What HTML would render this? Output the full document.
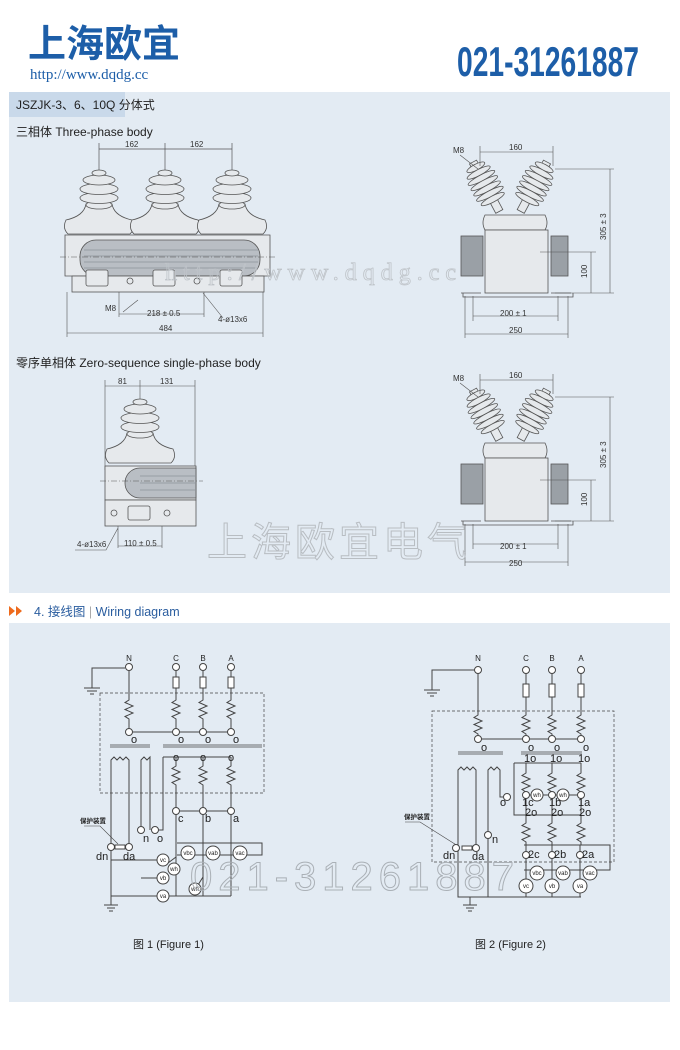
<!DOCTYPE html>
<html><head><meta charset="utf-8"><style>
html,body{margin:0;padding:0;background:#fff;}
body{width:680px;height:1050px;position:relative;overflow:hidden;font-family:"Liberation Sans","Noto Sans CJK SC",sans-serif;}
svg{position:absolute;left:0;top:0;}
</style></head><body>
<svg width="680" height="1050" viewBox="0 0 680 1050" xmlns="http://www.w3.org/2000/svg" font-family="Liberation Sans, Noto Sans CJK SC, sans-serif">
<defs>
<symbol id="res" overflow="visible"><path d="M0 0 v3 l-4 2.5 l8 3.5 l-8 3.5 l8 3.5 l-8 3.5 l4 2.5 v3" fill="none" stroke="#444" stroke-width="1"/></symbol>
<symbol id="ins" overflow="visible">
 <g fill="#e6e9ec" stroke="#555" stroke-width="0.8">
 <path d="M-33 48 q-4 8 2 14 h62 q6 -6 2 -14 q-18 -4 -20 -16 h-26 q-2 12 -20 16z"/>
 <ellipse cx="0" cy="33" rx="13" ry="4"/>
 <ellipse cx="0" cy="26" rx="19" ry="5.5"/>
 <ellipse cx="0" cy="17" rx="19" ry="5.5"/>
 <ellipse cx="0" cy="8" rx="16" ry="5"/>
 <ellipse cx="0" cy="1" rx="7" ry="3"/>
 </g>
</symbol>
<symbol id="side" overflow="visible">
 <g stroke="#555" stroke-width="0.8" fill="#e6e9ec">
 <g transform="translate(-10 -8) rotate(-28)">
  <rect x="-4" y="0" width="8" height="56"/>
  <ellipse cx="0" cy="6" rx="10" ry="3"/><ellipse cx="0" cy="12" rx="13" ry="3"/><ellipse cx="0" cy="18" rx="15" ry="3"/><ellipse cx="0" cy="24" rx="15" ry="3"/><ellipse cx="0" cy="30" rx="15" ry="3"/><ellipse cx="0" cy="36" rx="15" ry="3"/><ellipse cx="0" cy="42" rx="13" ry="3"/>
 </g>
 <g transform="translate(64 -8) rotate(28)">
  <rect x="-4" y="0" width="8" height="56"/>
  <ellipse cx="0" cy="6" rx="10" ry="3"/><ellipse cx="0" cy="12" rx="13" ry="3"/><ellipse cx="0" cy="18" rx="15" ry="3"/><ellipse cx="0" cy="24" rx="15" ry="3"/><ellipse cx="0" cy="30" rx="15" ry="3"/><ellipse cx="0" cy="36" rx="15" ry="3"/><ellipse cx="0" cy="42" rx="13" ry="3"/>
 </g>
 <path d="M2 45 q-4 8 0 15 h60 q4 -7 0 -15z"/>
 <rect x="2" y="60" width="63" height="63"/>
 <rect x="-22" y="66" width="22" height="40" fill="#9aa0a6"/>
 <rect x="68" y="66" width="17" height="40" fill="#9aa0a6"/>
 <path d="M-22 123 h20 M68 123 h20" />
 <path d="M-20 123 v4 h110 v-4" fill="none"/>
 </g>
</symbol>
</defs>

<!-- header -->
<text x="28" y="57" font-size="38" font-weight="bold" fill="#1d5ea8" font-family="Noto Sans CJK SC, sans-serif">上海欧宜</text>
<text x="30" y="79" font-size="15" fill="#1d5ea8" font-family="Liberation Serif, serif">http://www.dqdg.cc</text>
<text x="457" y="76" font-size="42" font-weight="bold" fill="#1d5ea8" textLength="182" lengthAdjust="spacingAndGlyphs">021-31261887</text>

<!-- panel 1 -->
<rect x="9" y="92" width="661" height="501" fill="#e3ebf3"/>
<rect x="9" y="92" width="116" height="25" fill="#c9d9ea"/>
<text x="16" y="109" font-size="12" fill="#222">JSZJK-3、6、10Q 分体式</text>
<text x="16" y="136" font-size="12" fill="#222">三相体  Three-phase body</text>

<!-- three-phase front -->
<g stroke="#555" stroke-width="0.7" fill="none">
 <path d="M99 143 v30 M165 143 v30 M232 143 v30"/>
 <path d="M99 149 H232"/>
</g>
<text x="125" y="147" font-size="8" fill="#333">162</text>
<text x="190" y="147" font-size="8" fill="#333">162</text>
<use href="#ins" x="99" y="172"/>
<use href="#ins" x="165" y="172"/>
<use href="#ins" x="232" y="172"/>
<g stroke="#555" stroke-width="0.8">
 <path d="M65 235 H270 V276 H65z" fill="#e6e9ec"/>
 <rect x="80" y="240" width="180" height="36" rx="16" fill="#b9bec4"/>
 <path d="M84 250 H258 M84 256 H258 M84 262 H258 M84 268 H258" stroke="#8d939a"/>
 <rect x="72" y="276" width="192" height="16" fill="#e6e9ec"/>
 <rect x="86" y="270" width="22" height="16" rx="2" fill="#e6e9ec"/>
 <rect x="153" y="270" width="22" height="16" rx="2" fill="#e6e9ec"/>
 <rect x="220" y="270" width="22" height="16" rx="2" fill="#e6e9ec"/>
 <circle cx="130" cy="281" r="3" fill="none"/><circle cx="197" cy="281" r="3" fill="none"/>
 <path d="M60 257 H275" stroke-dasharray="6 2 1 2" stroke-width="0.5"/>
 <path d="M119 292 v25 M204 292 v25 M67 292 v45 M263 292 v45 M119 314 H204 M67 333 H263" fill="none" stroke-width="0.6"/>
 <path d="M138 300 l-15 12 M203 293 l20 25" fill="none" stroke-width="0.6"/>
</g>
<text x="105" y="311" font-size="8" fill="#333">M8</text>
<text x="147" y="316" font-size="8" fill="#333">218 ± 0.5</text>
<text x="218" y="322" font-size="8" fill="#333">4-ø13x6</text>
<text x="159" y="331" font-size="8" fill="#333">484</text>

<!-- side view 1 -->
<use href="#side" x="483" y="170"/>
<g stroke="#555" stroke-width="0.6" fill="none">
 <path d="M480 146 v20 M553 146 v20 M480 152 H553 M460 155 l18 14"/>
 <path d="M555 169 H614 M555 293 H614 M610 169 V293 M540 252 H596 M591 252 V293"/>
 <path d="M473 296 v25 M558 296 v25 M473 316 H558 M465 296 v42 M568 296 v42 M465 334 H568"/>
</g>
<text x="453" y="153" font-size="8" fill="#333">M8</text>
<text x="509" y="150" font-size="8" fill="#333">160</text>
<text x="500" y="316" font-size="8" fill="#333">200 ± 1</text>
<text x="509" y="333" font-size="8" fill="#333">250</text>
<text x="606" y="240" font-size="8" fill="#333" transform="rotate(-90 606 240)">305 ± 3</text>
<text x="587" y="278" font-size="8" fill="#333" transform="rotate(-90 587 278)">100</text>

<text x="16" y="367" font-size="12" fill="#222">零序单相体  Zero-sequence single-phase body</text>

<!-- zero seq front -->
<g stroke="#555" stroke-width="0.6" fill="none">
 <path d="M105 380 v90 M140 380 v20 M195 380 v90 M105 386 H195"/>
</g>
<text x="118" y="384" font-size="8" fill="#333">81</text>
<text x="160" y="384" font-size="8" fill="#333">131</text>
<use href="#ins" x="140" y="401"/>
<g stroke="#555" stroke-width="0.8">
 <rect x="105" y="466" width="91" height="34" fill="#e6e9ec"/>
 <path d="M196 468 H140 a15 15 0 0 0 0 30 H196z" fill="#b9bec4"/>
 <path d="M140 476 H196 M140 483 H196 M140 490 H196" stroke="#8d939a"/>
 <rect x="105" y="500" width="91" height="26" fill="#e6e9ec"/>
 <rect x="128" y="506" width="22" height="14" rx="2" fill="#e6e9ec"/>
 <circle cx="114" cy="513" r="3" fill="none"/><circle cx="167" cy="513" r="3" fill="none"/>
 <path d="M100 481 H203" stroke-dasharray="6 2 1 2" stroke-width="0.5"/>
 <path d="M118 526 v22 M162 526 v22 M118 546 H162 M75 550 H106 l12 -22" fill="none" stroke-width="0.6"/>
</g>
<text x="77" y="547" font-size="8" fill="#333">4-ø13x6</text>
<text x="124" y="546" font-size="8" fill="#333">110 ± 0.5</text>

<!-- side view 2 -->
<use href="#side" x="483" y="398"/>
<g stroke="#555" stroke-width="0.6" fill="none">
 <path d="M480 374 v20 M553 374 v20 M480 380 H553 M460 383 l18 14"/>
 <path d="M555 397 H614 M555 521 H614 M610 397 V521 M540 480 H596 M591 480 V521"/>
 <path d="M473 524 v25 M558 524 v25 M473 544 H558 M465 524 v42 M568 524 v42 M465 562 H568"/>
</g>
<text x="453" y="381" font-size="8" fill="#333">M8</text>
<text x="509" y="378" font-size="8" fill="#333">160</text>
<text x="500" y="549" font-size="8" fill="#333">200 ± 1</text>
<text x="509" y="566" font-size="8" fill="#333">250</text>
<text x="606" y="468" font-size="8" fill="#333" transform="rotate(-90 606 468)">305 ± 3</text>
<text x="587" y="506" font-size="8" fill="#333" transform="rotate(-90 587 506)">100</text>

<!-- watermarks -->
<text x="165" y="280" font-size="24" fill="none" stroke="#bfc4c9" stroke-width="0.8" font-family="Liberation Serif, serif" letter-spacing="6">http://www.dqdg.cc</text>
<text x="207" y="556" font-size="40" fill="none" stroke="#b8bdc2" stroke-width="1" font-family="Noto Sans CJK SC, sans-serif" letter-spacing="4">上海欧宜电气</text>

<!-- section 4 header -->
<path d="M9 606 l6 5 l-6 5z M16 606 l6 5 l-6 5z" fill="#ee6a1c"/>
<text x="34" y="616" font-size="12.5" fill="#2a5d9f">4. 接线图 <tspan fill="#aaa">|</tspan> Wiring diagram</text>

<!-- panel 2 -->
<rect x="9" y="623" width="661" height="379" fill="#e3ebf3"/>

<g stroke="#444" stroke-width="1" fill="none" font-size="8">
<!-- FIGURE 1 -->
<path d="M129 671 V697 M176 671 V697 M203 671 V697 M231 671 V697"/>
<path d="M125 668 H92 V688 M84 688 h16 M87 691 h10 M90 694 h4"/>
<rect x="173" y="677" width="6" height="11" fill="#fff"/><rect x="200" y="677" width="6" height="11" fill="#fff"/><rect x="228" y="677" width="6" height="11" fill="#fff"/>
<rect x="100" y="693" width="164" height="100" stroke-dasharray="3 2" stroke-width="0.7"/>
<use href="#res" x="129" y="697"/><use href="#res" x="176" y="697"/><use href="#res" x="203" y="697"/><use href="#res" x="231" y="697"/>
<path d="M129 722 V732 M176 722 V732 M203 722 V732 M231 722 V732 M129 732 H231"/>
<path d="M110 745 H150 M163 745 H262 M110 747 H150 M163 747 H262" stroke-width="0.8"/>
<path d="M163 757 H231 M176 757 V763 M203 757 V763 M231 757 V763 M163 757 V830 H158"/>
<use href="#res" x="176" y="763"/><use href="#res" x="203" y="763"/><use href="#res" x="231" y="763"/>
<path d="M176 788 V896 M203 788 V896 M231 788 V896 M176 811 H231"/>
<path d="M111 847 V760 l3 -3 l3 3 l3 -3 l3 3 l3 -3 l3 3 V847 M141 826 V760 l3 -3 l3 3 l3 -3 V830"/>
<path d="M111 850 V905 M104 905 h14 M107 908 h8 M109 911 h4 M111 896 H231 M111 860 H159 M141 878 H159 M111 896 H159"/>
<path d="M177 843 H262 V855 H177 M168 863 l8 -6 M198 885 l5 -8"/>
<rect x="115" y="845" width="10" height="4" fill="#fff"/>
<path d="M84 826 H100 l18 18" stroke-width="0.6"/>
<circle cx="129" cy="667" r="3.5" fill="#fff"/><circle cx="176" cy="667" r="3.5" fill="#fff"/><circle cx="203" cy="667" r="3.5" fill="#fff"/><circle cx="231" cy="667" r="3.5" fill="#fff"/>
<circle cx="129" cy="732" r="3.5" fill="#fff"/><circle cx="176" cy="732" r="3.5" fill="#fff"/><circle cx="203" cy="732" r="3.5" fill="#fff"/><circle cx="231" cy="732" r="3.5" fill="#fff"/>
<circle cx="176" cy="811" r="3.5" fill="#fff"/><circle cx="203" cy="811" r="3.5" fill="#fff"/><circle cx="231" cy="811" r="3.5" fill="#fff"/>
<circle cx="141" cy="830" r="3.5" fill="#fff"/><circle cx="155" cy="830" r="3.5" fill="#fff"/>
<circle cx="111" cy="847" r="3.5" fill="#fff"/><circle cx="129" cy="847" r="3.5" fill="#fff"/>
<circle cx="188" cy="853" r="7" fill="#fff"/><circle cx="213" cy="853" r="7" fill="#fff"/><circle cx="240" cy="853" r="7" fill="#fff"/>
<circle cx="163" cy="860" r="6" fill="#fff"/><circle cx="174" cy="869" r="6" fill="#fff"/><circle cx="163" cy="878" r="6" fill="#fff"/><circle cx="195" cy="889" r="6" fill="#fff"/><circle cx="163" cy="896" r="6" fill="#fff"/>

<!-- FIGURE 2 -->
<path d="M478 673 V712 M526 673 V712 M552 673 V712 M581 673 V712"/>
<path d="M474 670 H432 V690 M424 690 h16 M427 693 h10 M430 696 h4"/>
<rect x="523" y="684" width="6" height="13" fill="#fff"/><rect x="549" y="684" width="6" height="13" fill="#fff"/><rect x="578" y="684" width="6" height="13" fill="#fff"/>
<rect x="432" y="711" width="182" height="151" stroke-dasharray="3 2" stroke-width="0.7"/>
<use href="#res" x="478" y="712"/><use href="#res" x="526" y="712"/><use href="#res" x="552" y="712"/><use href="#res" x="581" y="712"/>
<path d="M478 737 V739 M526 737 V739 M552 737 V739 M581 737 V739 M478 739 H581"/>
<path d="M458 752 H503 M521 752 H582 M458 754 H503 M521 754 H582" stroke-width="0.8"/>
<path d="M514 763 H581 M514 763 V815 H581 M526 763 V770 M552 763 V770 M581 763 V770"/>
<use href="#res" x="526" y="770"/><use href="#res" x="552" y="770"/><use href="#res" x="581" y="770"/>
<path d="M526 795 V820 M552 795 V820 M581 795 V820 M526 795 H581"/>
<use href="#res" x="526" y="820"/><use href="#res" x="552" y="820"/><use href="#res" x="581" y="820"/>
<path d="M526 845 V897 M552 845 V897 M580 845 V897 M524 845 H610 V870 H524"/>
<path d="M458 848 V770 l3 -3 l3 3 l3 -3 l3 3 l3 -3 l3 3 V848 M488 835 V770 l3 -3 l3 3 l3 -3 l3 3 V797 H503 M488 835 V897"/>
<path d="M458 851 V897 H581 M470 897 V905 M463 905 h14 M466 908 h8 M468 911 h4"/>
<rect x="462" y="846" width="10" height="4" fill="#fff"/>
<path d="M405 822 H420 l38 24" stroke-width="0.6"/>
<circle cx="478" cy="670" r="3.5" fill="#fff"/><circle cx="526" cy="670" r="3.5" fill="#fff"/><circle cx="552" cy="670" r="3.5" fill="#fff"/><circle cx="581" cy="670" r="3.5" fill="#fff"/>
<circle cx="478" cy="739" r="3.5" fill="#fff"/><circle cx="526" cy="739" r="3.5" fill="#fff"/><circle cx="552" cy="739" r="3.5" fill="#fff"/><circle cx="581" cy="739" r="3.5" fill="#fff"/>
<circle cx="526" cy="795" r="3.5" fill="#fff"/><circle cx="552" cy="795" r="3.5" fill="#fff"/><circle cx="581" cy="795" r="3.5" fill="#fff"/>
<circle cx="537" cy="795" r="6" fill="#fff"/><circle cx="563" cy="795" r="6" fill="#fff"/>
<circle cx="507" cy="797" r="3.5" fill="#fff"/><circle cx="488" cy="835" r="3.5" fill="#fff"/>
<circle cx="526" cy="855" r="3.5" fill="#fff"/><circle cx="552" cy="855" r="3.5" fill="#fff"/><circle cx="580" cy="855" r="3.5" fill="#fff"/>
<circle cx="456" cy="848" r="3.5" fill="#fff"/><circle cx="476" cy="848" r="3.5" fill="#fff"/>
<circle cx="537" cy="873" r="7" fill="#fff"/><circle cx="563" cy="873" r="7" fill="#fff"/><circle cx="590" cy="873" r="7" fill="#fff"/>
<circle cx="526" cy="886" r="7" fill="#fff"/><circle cx="552" cy="886" r="7" fill="#fff"/><circle cx="580" cy="886" r="7" fill="#fff"/>
</g>

<g font-size="8" fill="#222" text-anchor="middle">
<text x="129" y="661">N</text><text x="176" y="661">C</text><text x="203" y="661">B</text><text x="231" y="661">A</text>
<text x="478" y="661">N</text><text x="526" y="661">C</text><text x="552" y="661">B</text><text x="581" y="661">A</text>
</g>
<g font-size="11" fill="#222">
<text x="131" y="743">o</text><text x="178" y="743">o</text><text x="205" y="743">o</text><text x="233" y="743">o</text>
<text x="173" y="761">o</text><text x="200" y="761">o</text><text x="228" y="761">o</text>
<text x="178" y="822">c</text><text x="205" y="822">b</text><text x="233" y="822">a</text>
<text x="143" y="842">n</text><text x="157" y="842">o</text>
<text x="96" y="860">dn</text><text x="123" y="860">da</text>
<text x="481" y="751">o</text><text x="528" y="751">o</text><text x="554" y="751">o</text><text x="583" y="751">o</text>
<text x="524" y="762">1o</text><text x="550" y="762">1o</text><text x="578" y="762">1o</text>
<text x="522" y="806">1c</text><text x="549" y="806">1b</text><text x="578" y="806">1a</text>
<text x="525" y="816">2o</text><text x="551" y="816">2o</text><text x="579" y="816">2o</text>
<text x="500" y="806">o</text><text x="492" y="843">n</text>
<text x="528" y="858">2c</text><text x="554" y="858">2b</text><text x="582" y="858">2a</text>
<text x="443" y="859">dn</text><text x="472" y="860">da</text>
</g>
<g font-size="6" fill="#222" text-anchor="middle">
<text x="188" y="855">vbc</text><text x="213" y="855">vab</text><text x="240" y="855">vac</text>
<text x="163" y="862">vc</text><text x="174" y="871">wh</text><text x="163" y="880">vb</text><text x="195" y="891">wh</text><text x="163" y="898">va</text>
<text x="537" y="797">wh</text><text x="563" y="797">wh</text>
<text x="537" y="875">vbc</text><text x="563" y="875">vab</text><text x="590" y="875">vac</text>
<text x="526" y="888">vc</text><text x="552" y="888">vb</text><text x="580" y="888">va</text>
</g>
<text x="80" y="823" font-size="6.5" fill="#222" font-weight="bold">保护装置</text>
<text x="404" y="819" font-size="6.5" fill="#222" font-weight="bold">保护装置</text>

<text x="190" y="890" font-size="40" fill="none" stroke="#aab0b6" stroke-width="1" letter-spacing="6">021-31261887</text>

<text x="133" y="948" font-size="11" fill="#222">图 1  (Figure 1)</text>
<text x="475" y="948" font-size="11" fill="#222">图 2  (Figure 2)</text>
</svg>
</body></html>
